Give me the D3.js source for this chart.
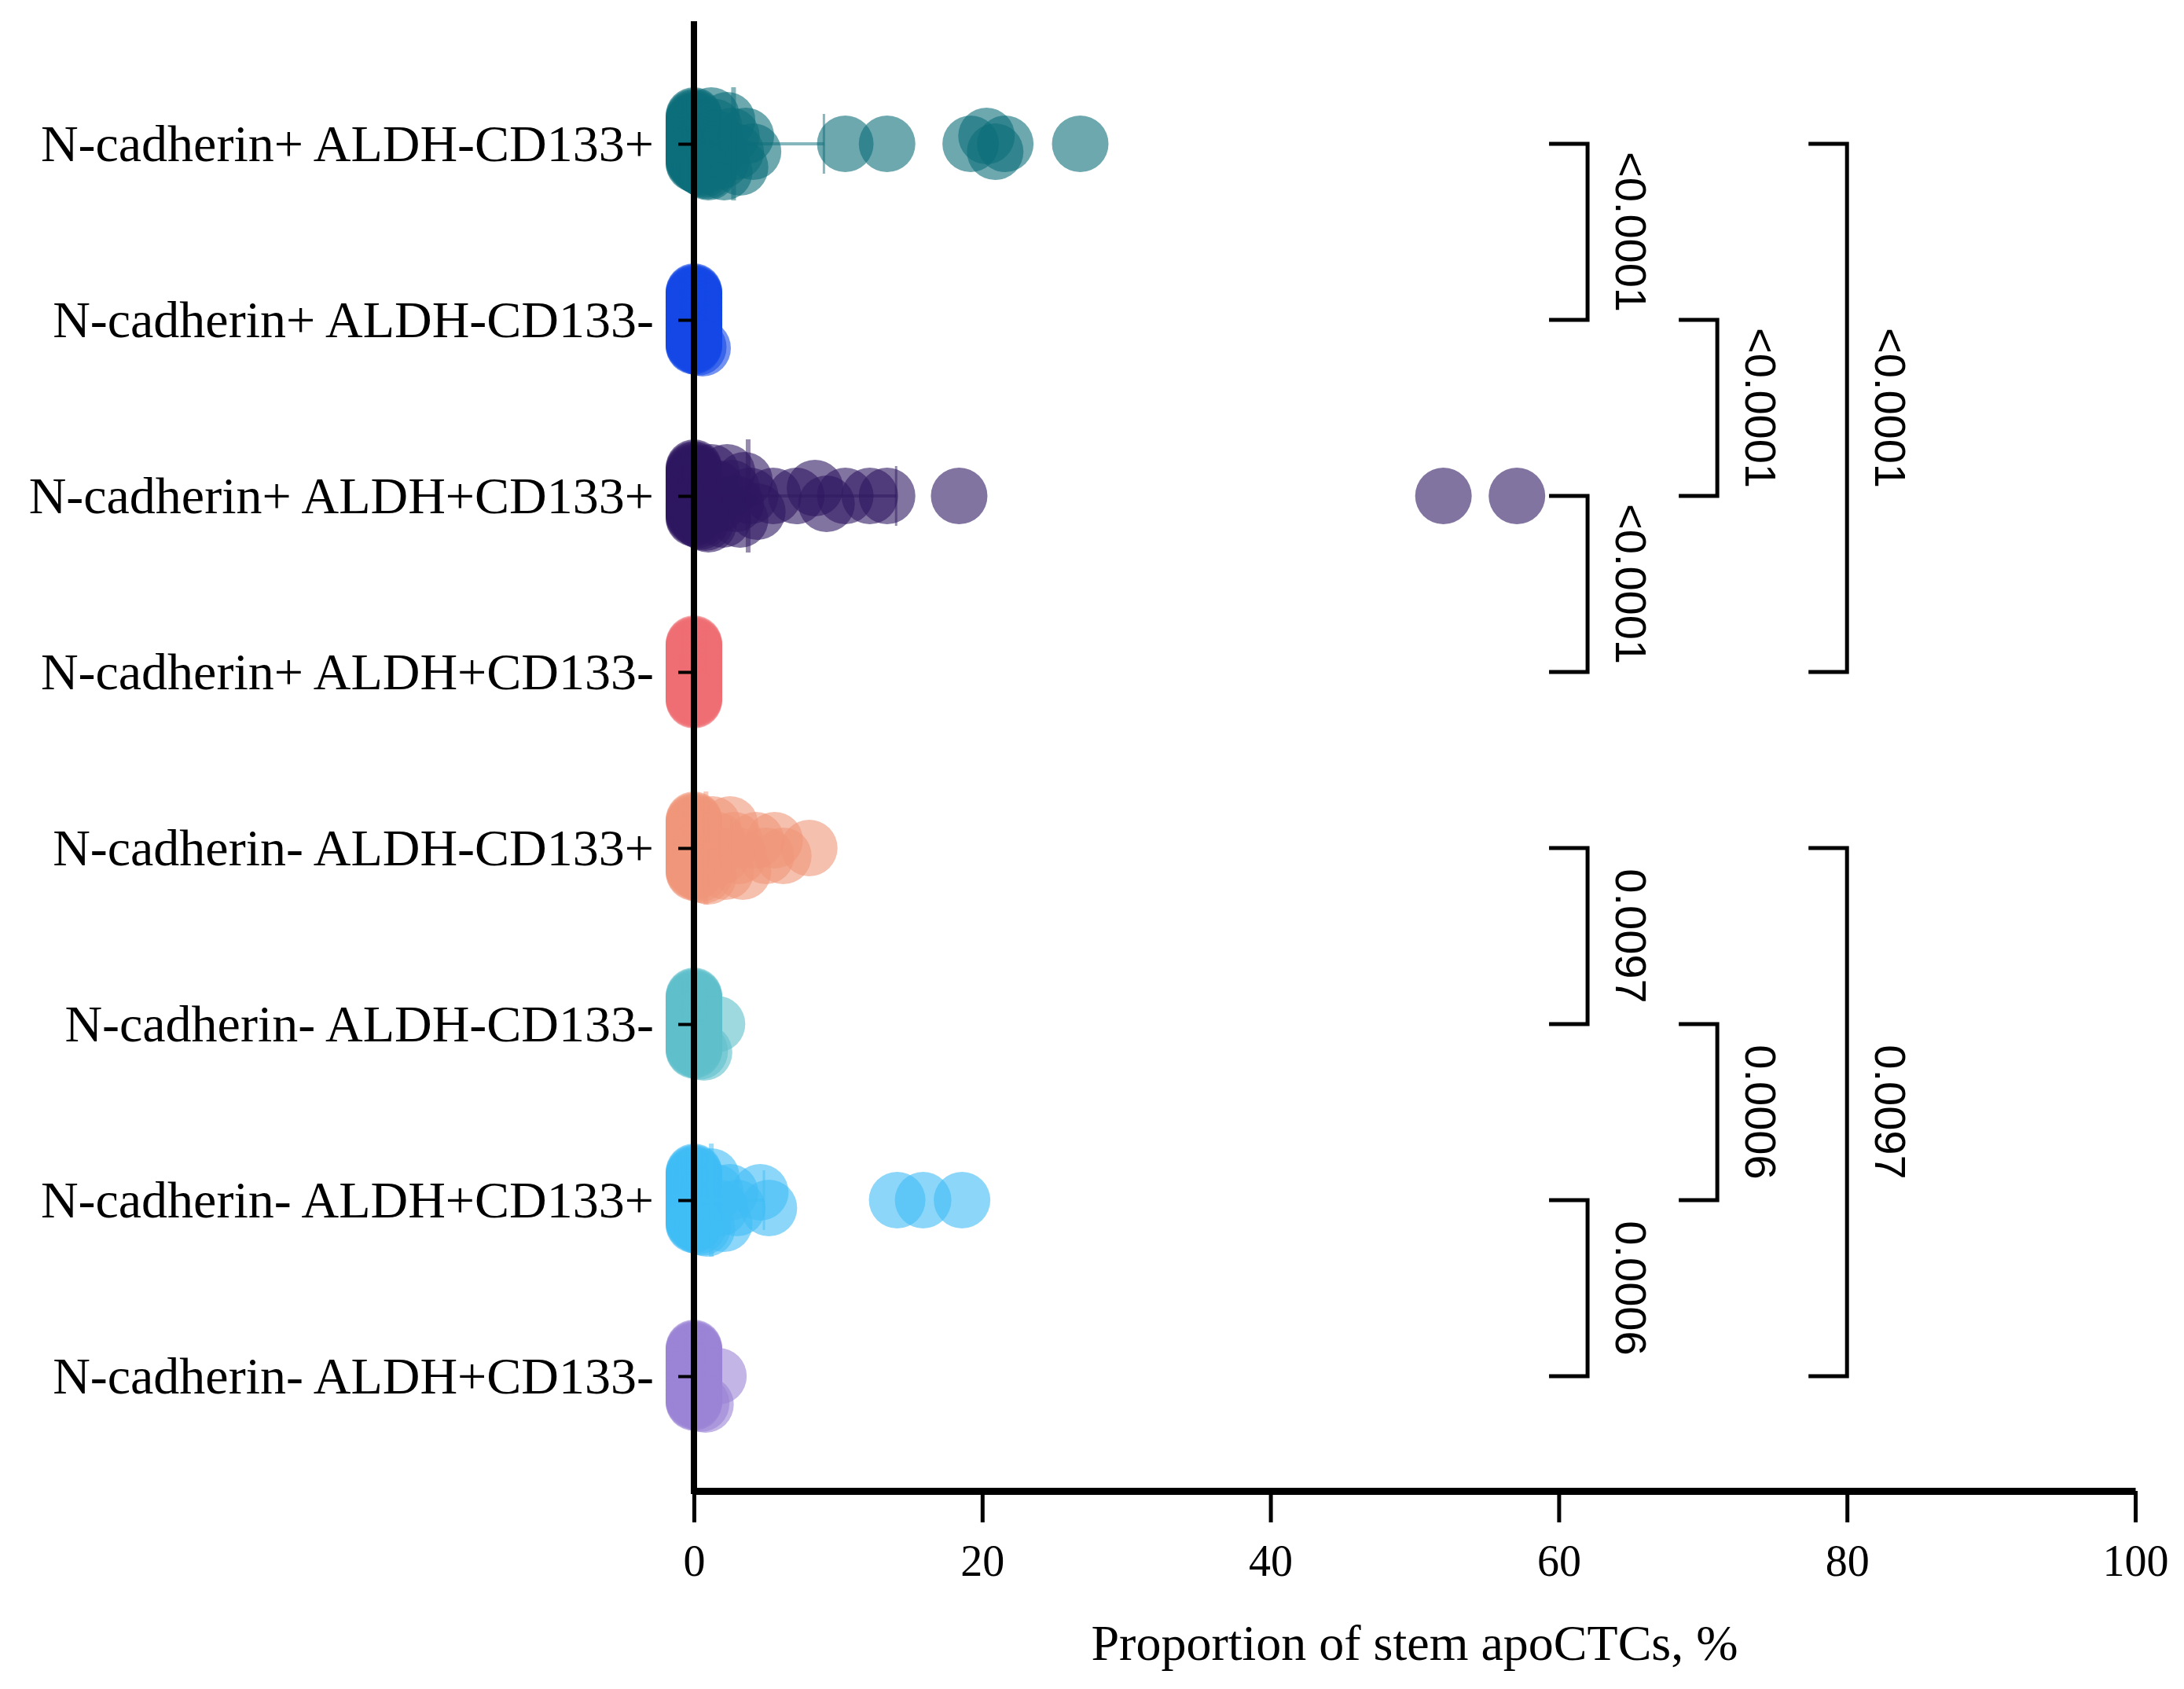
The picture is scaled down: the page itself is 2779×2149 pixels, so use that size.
<!DOCTYPE html>
<html>
<head>
<meta charset="utf-8">
<script src="https://cdn.jsdelivr.net/npm/d3@7"></script>
<style>
body{margin:0;background:#fff;}
</style>
</head>
<body>
<div class="canvas"></div>
<script>
const dims={width:2779,height:2149};
const plot={left:883,right:2717,top:27,bottom:1897};

// groups top to bottom
const categories=[
  'N-cadherin+ ALDH-CD133+',
  'N-cadherin+ ALDH-CD133-',
  'N-cadherin+ ALDH+CD133+',
  'N-cadherin+ ALDH+CD133-',
  'N-cadherin- ALDH-CD133+',
  'N-cadherin- ALDH-CD133-',
  'N-cadherin- ALDH+CD133+',
  'N-cadherin- ALDH+CD133-'
];
const colours=['#0c6e7a','#1447e6','#2e1760','#ee6e73','#f0967a','#5fbfcb','#3fbdf5','#9b83d6'];

// proportion of stem apoCTCs (%) per patient
const nPosAnegCpos=[0,0,0,0,0,0,0,0,0,0,0,0,0,0,0,0,0,0,0,0,0,0,0,0,0,0,0,0,0,0,0,0,0,0,0,
  0.2,0.4,0.5,0.7,0.9,1.0,1.2,1.4,1.5,1.7,1.9,2.1,2.3,2.6,2.9,3.2,3.6,4.1,
  10.5,13.4,19.2,20.3,20.9,21.6,26.8];
const nPosAnegCneg=[0,0,0,0,0,0,0,0,0,0,0,0,0,0,0,0,0,0,0,0,0,0,0,0,0,0,0,0,0,0,
  0,0,0,0,0,0,0,0,0,0,0,0,0,0,0,0,0,0,0,0,0,0,0,0,0,0,0,0,0.3,0.6];
const nPosAposCpos=[0,0,0,0,0,0,0,0,0,0,0,0,0,0,0,0,0,0,0,0,0,0,0,0,0,0,0,0,0,0,0,0,0,0,0,
  0.3,0.5,0.8,1.0,1.2,1.5,1.7,2.0,2.3,2.6,2.9,3.2,3.5,3.9,4.4,
  5.5,7.1,8.4,9.2,10.5,12.2,13.4,18.4,52.0,57.1];
const nPosAposCneg=[0,0,0,0,0,0,0,0,0,0,0,0,0,0,0,0,0,0,0,0,0,0,0,0,0,0,0,0,0,0,
  0,0,0,0,0,0,0,0,0,0,0,0,0,0,0,0,0,0,0,0,0,0,0,0,0,0,0,0,0,0];
const nNegAnegCpos=[0,0,0,0,0,0,0,0,0,0,0,0,0,0,0,0,0,0,0,0,0,0,0,0,0,0,0,0,0,0,
  0,0,0,0,0,0,0,0,0,0,0,0,0,0,
  0.4,0.7,1.0,1.3,1.6,1.9,2.2,2.5,2.8,3.1,3.4,4.3,5.0,5.6,6.2,8.0];
const nNegAnegCneg=[0,0,0,0,0,0,0,0,0,0,0,0,0,0,0,0,0,0,0,0,0,0,0,0,0,0,0,0,0,0,
  0,0,0,0,0,0,0,0,0,0,0,0,0,0,0,0,0,0,0,0,0,0,0,0,0,0,0,0.4,0.7,1.6];
const nNegAposCpos=[0,0,0,0,0,0,0,0,0,0,0,0,0,0,0,0,0,0,0,0,0,0,0,0,0,0,0,0,0,0,
  0,0,0,0,0,0,0,0,0,0,0,0,0,0,0,0,
  0.3,0.6,0.9,1.2,1.5,1.8,2.1,2.5,3.0,4.6,5.2,14.1,15.9,18.6];
const nNegAposCneg=[0,0,0,0,0,0,0,0,0,0,0,0,0,0,0,0,0,0,0,0,0,0,0,0,0,0,0,0,0,0,
  0,0,0,0,0,0,0,0,0,0,0,0,0,0,0,0,0,0,0,0,0,0,0,0,0,0,0,0.5,0.8,1.7];
const groups=[nPosAnegCpos,nPosAnegCneg,nPosAposCpos,nPosAposCneg,nNegAnegCpos,nNegAnegCneg,nNegAposCpos,nNegAposCneg];

const xTicks=[0,20,40,60,80,100];

// significance brackets: from row, to row, x position (axis units), p value
const bracketFrom=[0,1,2,0,4,5,6,4];
const bracketTo=[1,2,3,3,5,6,7,7];
const bracketAt=[62,71,62,80,62,71,62,80];
const bracketText=['<0.0001','<0.0001','<0.0001','<0.0001','0.0097','0.0006','0.0006','0.0097'];

const svg=d3.select('.canvas')
      .append('svg')
      .attr('width',dims.width)
      .attr('height',dims.height)
      .style('background','#fff');

//scales
const x=d3.scaleLinear()
      .domain([0,100])
      .range([plot.left,plot.right]);
const y=d3.scalePoint()
      .domain(categories)
      .range([183,1751]);

const dotR=36;

//spread overlapping dots vertically (scatter column look)
const placeDots=(vals)=>{
  const sorted=vals.map(v=>({v,px:x(v)})).sort((a,b)=>a.px-b.px);
  const out=[];
  let i=0;
  while(i<sorted.length){
    let j=i;
    while(j<sorted.length && sorted[j].px-sorted[i].px<20) j++;
    const k=j-i;
    const spread=Math.min(dotR,(k-1)*10);
    for(let n=i;n<j;n++){
      const off=k==1?0:-spread+2*spread*(n-i)/(k-1);
      out.push({v:sorted[n].v,off});
    }
    i=j;
  }
  return out;
};

//dots
groups.forEach((vals,gi)=>{
  const cy=y(categories[gi]);
  const g=svg.append('g').attr('class','group');
  g.selectAll('circle')
    .data(placeDots(vals))
    .enter()
    .append('circle')
      .attr('cx',d=>x(d.v))
      .attr('cy',d=>cy+d.off)
      .attr('r',dotR)
      .attr('fill',colours[gi])
      .attr('fill-opacity',0.6);

  //mean + SD
  const m=d3.mean(vals);
  const sd=d3.deviation(vals);
  g.append('line')
    .attr('x1',x(m)).attr('x2',x(m))
    .attr('y1',cy-72).attr('y2',cy+72)
    .attr('stroke',colours[gi]).attr('stroke-opacity',0.5).attr('stroke-width',6);
  g.append('line')
    .attr('x1',x(Math.max(0,m-sd))).attr('x2',x(m+sd))
    .attr('y1',cy).attr('y2',cy)
    .attr('stroke',colours[gi]).attr('stroke-opacity',0.5).attr('stroke-width',4);
  g.append('line')
    .attr('x1',x(m+sd)).attr('x2',x(m+sd))
    .attr('y1',cy-38).attr('y2',cy+38)
    .attr('stroke',colours[gi]).attr('stroke-opacity',0.5).attr('stroke-width',3);
});

//y axis
const yAxis=d3.axisLeft(y).tickSize(20).tickPadding(31);
const yg=svg.append('g')
      .attr('transform',`translate(${plot.left},0)`)
      .call(yAxis);
yg.select('.domain').remove();
yg.selectAll('.tick line').attr('stroke','#000').attr('stroke-width',4);
yg.selectAll('text')
  .attr('font-family','"Liberation Serif", serif')
  .attr('font-size',66)
  .attr('fill','#000');

svg.append('line')
   .attr('x1',plot.left).attr('x2',plot.left)
   .attr('y1',plot.top).attr('y2',plot.bottom+4)
   .attr('stroke','#000')
   .attr('stroke-width',8);

//x axis
const xAxis=d3.axisBottom(x)
      .tickValues(xTicks)
      .tickSize(40)
      .tickSizeOuter(0)
      .tickPadding(28);
const xg=svg.append('g')
      .attr('transform',`translate(0,${plot.bottom})`)
      .call(xAxis);
xg.select('.domain').attr('stroke','#000').attr('stroke-width',9);
xg.selectAll('.tick line').attr('stroke','#000').attr('stroke-width',5);
xg.selectAll('text')
  .attr('font-family','"Liberation Serif", serif')
  .attr('font-size',56)
  .attr('fill','#000');

svg.append('text')
   .attr('x',(plot.left+plot.right)/2)
   .attr('y',2112)
   .attr('text-anchor','middle')
   .attr('font-family','"Liberation Serif", serif')
   .attr('font-size',64)
   .text('Proportion of stem apoCTCs, %');

//brackets
const arm=49;
bracketFrom.forEach((a,i)=>{
  const bx=x(bracketAt[i]);
  const y1=y(categories[a]);
  const y2=y(categories[bracketTo[i]]);
  svg.append('path')
     .attr('d',`M${bx-arm},${y1}H${bx}V${y2}H${bx-arm}`)
     .attr('fill','none')
     .attr('stroke','#000')
     .attr('stroke-width',5);
  svg.append('text')
     .attr('transform',`translate(${bx+56},${(y1+y2)/2}) rotate(90)`)
     .attr('text-anchor','middle')
     .attr('dy','0.36em')
     .attr('font-family','"Liberation Sans", Arial, sans-serif')
     .attr('font-size',56)
     .text(bracketText[i]);
});
</script>
</body>
</html>
